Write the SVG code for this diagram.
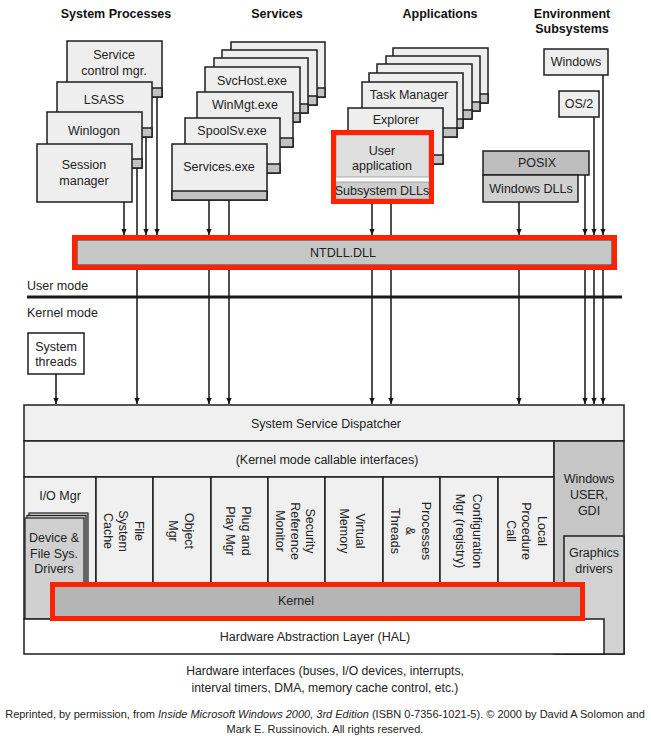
<svg xmlns="http://www.w3.org/2000/svg" width="651" height="736" viewBox="0 0 651 736">
<defs>
<style>
.box{fill:#eeeeee;stroke:#1e1e1e;stroke-width:1.5}
.tab{fill:#c2c2c2;stroke:#1e1e1e;stroke-width:1.5}
.t{font-family:"Liberation Sans",Arial,sans-serif;font-size:12.5px;fill:#222;text-anchor:middle}
.l{text-anchor:start}
.h{font-weight:bold;font-size:12.5px;fill:#111}
.v{dominant-baseline:central}
.red{fill:none;stroke:#ff2200;stroke-width:5}
.c line{stroke:#151515;stroke-width:1.5}
.c .a{marker-end:url(#arr)}
.ft{font-family:"Liberation Sans",Arial,sans-serif;fill:#222;text-anchor:middle}
</style>
<marker id="arr" viewBox="0 0 8 8" refX="8" refY="4" markerWidth="6" markerHeight="7" markerUnits="userSpaceOnUse" orient="auto">
<path d="M0,0.5 L8,4 L0,7.5 z" fill="#151515"/>
</marker>
</defs>
<rect width="651" height="736" fill="#ffffff"/>

<!-- titles -->
<g id="titles">
<text class="t h" x="116" y="18">System Processes</text>
<text class="t h" x="277" y="18">Services</text>
<text class="t h" x="440" y="18">Applications</text>
<text class="t h" x="572" y="18">Environment</text>
<text class="t h" x="572" y="33">Subsystems</text>
</g>

<!-- connectors -->
<g id="connectors" class="c">
<line class="a" x1="124" y1="202" x2="124" y2="235"/>
<line class="a" x1="146" y1="137" x2="146" y2="235"/>
<line class="a" x1="157" y1="97" x2="157" y2="235"/>
<line class="a" x1="137" y1="168" x2="137" y2="404"/>
<line class="a" x1="209" y1="200" x2="209" y2="235"/>
<line class="a" x1="229" y1="200" x2="229" y2="404"/>
<line class="a" x1="372" y1="204" x2="372" y2="235"/>
<line class="a" x1="391" y1="204" x2="391" y2="404"/>
<line class="a" x1="519" y1="202" x2="519" y2="235"/>
<line class="a" x1="585" y1="175" x2="585" y2="235"/>
<line class="a" x1="594" y1="117" x2="594" y2="235"/>
<line class="a" x1="603" y1="75" x2="603" y2="235"/>
<line class="a" x1="209" y1="270" x2="209" y2="404"/>
<line class="a" x1="372" y1="270" x2="372" y2="404"/>
<line class="a" x1="519" y1="270" x2="519" y2="404"/>
<line class="a" x1="585" y1="270" x2="585" y2="404"/>
<line class="a" x1="594" y1="270" x2="594" y2="404"/>
<line class="a" x1="603" y1="270" x2="603" y2="404"/>
<line class="a" x1="56" y1="374" x2="56" y2="404"/>
</g>

<!-- system processes -->
<g id="scm">
<rect class="box" x="67" y="41" width="95" height="56"/>
<rect class="tab" x="67" y="88" width="95" height="9"/>
<text class="t" x="114" y="59">Service</text>
<text class="t" x="114" y="75">control mgr.</text>
</g>
<g id="lsass">
<rect class="box" x="57" y="82" width="95" height="55"/>
<rect class="tab" x="57" y="128" width="95" height="9"/>
<text class="t" x="104" y="104">LSASS</text>
</g>
<g id="winlogon">
<rect class="box" x="47" y="112" width="95" height="56"/>
<rect class="tab" x="47" y="159" width="95" height="9"/>
<text class="t" x="94" y="135">Winlogon</text>
</g>
<g id="session-manager">
<rect class="box" x="37" y="144" width="95" height="58"/>
<text class="t" x="84" y="169">Session</text>
<text class="t" x="84" y="185">manager</text>
</g>

<!-- services -->
<g id="svc-back1">
<rect class="box" x="231" y="42" width="94" height="55"/>
<rect class="tab" x="231" y="88" width="94" height="9"/>
</g>
<g id="svc-back2">
<rect class="box" x="222" y="50" width="95" height="55"/>
<rect class="tab" x="222" y="96" width="95" height="9"/>
</g>
<g id="svc-back3">
<rect class="box" x="214" y="58" width="94" height="55"/>
<rect class="tab" x="214" y="104" width="94" height="9"/>
</g>
<g id="svchost">
<rect class="box" x="205" y="67" width="95" height="55"/>
<rect class="tab" x="205" y="113" width="95" height="9"/>
<text class="t" x="252" y="85">SvcHost.exe</text>
</g>
<g id="winmgt">
<rect class="box" x="197" y="92" width="96" height="55"/>
<rect class="tab" x="197" y="138" width="96" height="9"/>
<text class="t" x="245" y="109">WinMgt.exe</text>
</g>
<g id="spoolsv">
<rect class="box" x="185" y="118" width="95" height="55"/>
<rect class="tab" x="185" y="164" width="95" height="9"/>
<text class="t" x="232" y="135">SpoolSv.exe</text>
</g>
<g id="services-exe">
<rect class="box" x="172" y="144" width="95" height="56"/>
<rect class="tab" x="172" y="191" width="95" height="9"/>
<text class="t" x="219" y="171">Services.exe</text>
</g>

<!-- applications -->
<g id="app-back1">
<rect class="box" x="393" y="48" width="95" height="55"/>
<rect class="tab" x="393" y="94" width="95" height="9"/>
</g>
<g id="app-back2">
<rect class="box" x="386" y="56" width="94" height="55"/>
<rect class="tab" x="386" y="102" width="94" height="9"/>
</g>
<g id="app-back3">
<rect class="box" x="377" y="64" width="95" height="55"/>
<rect class="tab" x="377" y="110" width="95" height="9"/>
</g>
<g id="app-back4">
<rect class="box" x="369" y="73" width="94" height="55"/>
<rect class="tab" x="369" y="119" width="94" height="9"/>
</g>
<g id="task-manager">
<rect class="box" x="362" y="82" width="95" height="55"/>
<rect class="tab" x="362" y="128" width="95" height="9"/>
<text class="t" x="409" y="99">Task Manager</text>
</g>
<g id="explorer">
<rect class="box" x="348" y="108" width="95" height="56"/>
<rect class="tab" x="348" y="155" width="95" height="9"/>
<text class="t" x="396" y="124">Explorer</text>
</g>
<g id="user-application">
<rect x="331" y="130" width="103" height="74" fill="#ffffff"/>
<rect x="336" y="135" width="93" height="42" fill="#dedede" stroke="#9a9a9a" stroke-width="0.8"/>
<rect x="336" y="182" width="93" height="17" fill="#cdcdcd" stroke="#9a9a9a" stroke-width="0.8"/>
<text class="t" x="382" y="155">User</text>
<text class="t" x="382" y="170">application</text>
<text class="t" x="382" y="195">Subsystem DLLs</text>
<rect class="red" x="333.5" y="132.5" width="98" height="69"/>
</g>

<!-- environment subsystems -->
<g id="windows">
<rect class="box" x="544" y="49" width="64" height="26" fill="#f0f0f0"/>
<text class="t" x="576" y="66">Windows</text>
</g>
<g id="os2">
<rect class="box" x="559" y="91" width="40" height="26"/>
<text class="t" x="579" y="108">OS/2</text>
</g>
<g id="posix">
<rect x="483" y="151" width="106" height="24" fill="#bdbdbd" stroke="#1e1e1e" stroke-width="1.5"/>
<rect x="483" y="175" width="95" height="27" fill="#d0d0d0" stroke="#1e1e1e" stroke-width="1.5"/>
<text class="t" x="537" y="167">POSIX</text>
<text class="t" x="531" y="193">Windows DLLs</text>
</g>

<!-- NTDLL -->
<g id="ntdll">
<rect x="77" y="240" width="535" height="25" fill="#c5c7c7" stroke="#333" stroke-width="1"/>
<text class="t" x="343" y="257">NTDLL.DLL</text>
<rect class="red" x="74.5" y="237.5" width="540" height="30"/>
</g>

<!-- mode divider -->
<g id="mode-divider">
<line x1="27" y1="297" x2="622" y2="297" stroke="#1a1a1a" stroke-width="3"/>
<text class="t l" x="27" y="290">User mode</text>
<text class="t l" x="27" y="317">Kernel mode</text>
</g>

<g id="system-threads">
<rect x="28" y="333" width="56" height="41" fill="#ffffff" stroke="#1e1e1e" stroke-width="1.5"/>
<text class="t" x="56" y="351">System</text>
<text class="t" x="56" y="366">threads</text>
</g>

<!-- kernel-mode block -->
<g id="dispatcher">
<rect x="24" y="405" width="600" height="36" fill="#f0f0f0" stroke="#1e1e1e" stroke-width="1.5"/>
<text class="t" x="326" y="428">System Service Dispatcher</text>
</g>
<g id="callable">
<rect x="24" y="441" width="530" height="36" fill="#f0f0f0" stroke="#1e1e1e" stroke-width="1.5"/>
<text class="t" x="327" y="464">(Kernel mode callable interfaces)</text>
</g>
<g id="io-mgr">
<rect x="24" y="477" width="72" height="142" fill="#f0f0f0" stroke="#1e1e1e" stroke-width="1.5"/>
<text class="t" x="60" y="500">I/O Mgr</text>
</g>
<g id="device-drivers">
<rect x="29" y="513" width="59" height="106" fill="#d0d0d0" stroke="#1e1e1e" stroke-width="1.2"/>
<rect x="27" y="515.5" width="59" height="103" fill="#d0d0d0" stroke="#1e1e1e" stroke-width="1.2"/>
<rect x="25" y="518" width="59" height="101" fill="#d0d0d0" stroke="#1e1e1e" stroke-width="1.2"/>
<text class="t" x="54" y="542">Device &amp;</text>
<text class="t" x="54" y="558">File Sys.</text>
<text class="t" x="54" y="573">Drivers</text>
</g>
<g id="file-system-cache">
<rect x="96" y="477" width="57" height="142" fill="#f0f0f0" stroke="#1e1e1e" stroke-width="1.5"/>
<text class="t v" transform="translate(123,531) rotate(90)"><tspan x="0" y="-15.5">File</tspan><tspan x="0" y="0">System</tspan><tspan x="0" y="15.5">Cache</tspan></text>
</g>
<g id="object-mgr">
<rect x="153" y="477" width="58" height="142" fill="#f0f0f0" stroke="#1e1e1e" stroke-width="1.5"/>
<text class="t v" transform="translate(181,531) rotate(90)"><tspan x="0" y="-8">Object</tspan><tspan x="0" y="8">Mgr</tspan></text>
</g>
<g id="pnp-mgr">
<rect x="211" y="477" width="57" height="142" fill="#f0f0f0" stroke="#1e1e1e" stroke-width="1.5"/>
<text class="t v" transform="translate(238,531) rotate(90)"><tspan x="0" y="-8">Plug and</tspan><tspan x="0" y="8">Play Mgr</tspan></text>
</g>
<g id="security-ref-monitor">
<rect x="268" y="477" width="57" height="142" fill="#f0f0f0" stroke="#1e1e1e" stroke-width="1.5"/>
<text class="t v" transform="translate(295,531) rotate(90)"><tspan x="0" y="-15">Security</tspan><tspan x="0" y="0">Reference</tspan><tspan x="0" y="15">Monitor</tspan></text>
</g>
<g id="virtual-memory">
<rect x="325" y="477" width="58" height="142" fill="#f0f0f0" stroke="#1e1e1e" stroke-width="1.5"/>
<text class="t v" transform="translate(352,531) rotate(90)"><tspan x="0" y="-8">Virtual</tspan><tspan x="0" y="8">Memory</tspan></text>
</g>
<g id="processes-threads">
<rect x="383" y="477" width="57" height="142" fill="#f0f0f0" stroke="#1e1e1e" stroke-width="1.5"/>
<text class="t v" transform="translate(410,531) rotate(90)"><tspan x="0" y="-15.5">Processes</tspan><tspan x="0" y="0">&amp;</tspan><tspan x="0" y="15.5">Threads</tspan></text>
</g>
<g id="config-mgr">
<rect x="440" y="477" width="58" height="142" fill="#f0f0f0" stroke="#1e1e1e" stroke-width="1.5"/>
<text class="t v" transform="translate(468,531) rotate(90)"><tspan x="0" y="-8.5">Configuration</tspan><tspan x="0" y="8.5">Mgr (registry)</tspan></text>
</g>
<g id="lpc">
<rect x="498" y="477" width="56" height="142" fill="#f0f0f0" stroke="#1e1e1e" stroke-width="1.5"/>
<text class="t v" transform="translate(526,531) rotate(90)"><tspan x="0" y="-15.5">Local</tspan><tspan x="0" y="0">Procedure</tspan><tspan x="0" y="15.5">Call</tspan></text>
</g>
<g id="windows-user-gdi">
<rect x="554" y="441" width="70" height="213" fill="#c6c6c6" stroke="#1e1e1e" stroke-width="1.5"/>
<text class="t" x="589" y="483">Windows</text>
<text class="t" x="589" y="499">USER,</text>
<text class="t" x="589" y="515">GDI</text>
</g>
<g id="graphics-drivers">
<rect x="564" y="536" width="60" height="118" fill="#d2d2d2" stroke="#1e1e1e" stroke-width="1.5"/>
<text class="t" x="594" y="557">Graphics</text>
<text class="t" x="594" y="573">drivers</text>
</g>
<g id="hal">
<rect x="24" y="619" width="580" height="35" fill="#ffffff" stroke="#1e1e1e" stroke-width="1.5"/>
<text class="t" x="315" y="641">Hardware Abstraction Layer (HAL)</text>
</g>
<g id="kernel">
<rect x="55" y="587" width="525" height="29" fill="#b5b5b5"/>
<text class="t" x="296" y="605">Kernel</text>
<rect class="red" x="52.5" y="584.5" width="530" height="34"/>
</g>

<!-- footer -->
<g id="hardware-interfaces">
<text class="ft" font-size="12.2" x="325" y="675">Hardware interfaces (buses, I/O devices, interrupts,</text>
<text class="ft" font-size="12.2" x="325" y="692">interval timers, DMA, memory cache control, etc.)</text>
</g>
<g id="credit">
<text class="ft" font-size="11" x="325" y="718">Reprinted, by permission, from <tspan font-style="italic">Inside Microsoft Windows 2000, 3rd Edition</tspan> (ISBN 0-7356-1021-5). © 2000 by David A Solomon and</text>
<text class="ft" font-size="11" x="325" y="733">Mark E. Russinovich. All rights reserved.</text>
</g>
</svg>
